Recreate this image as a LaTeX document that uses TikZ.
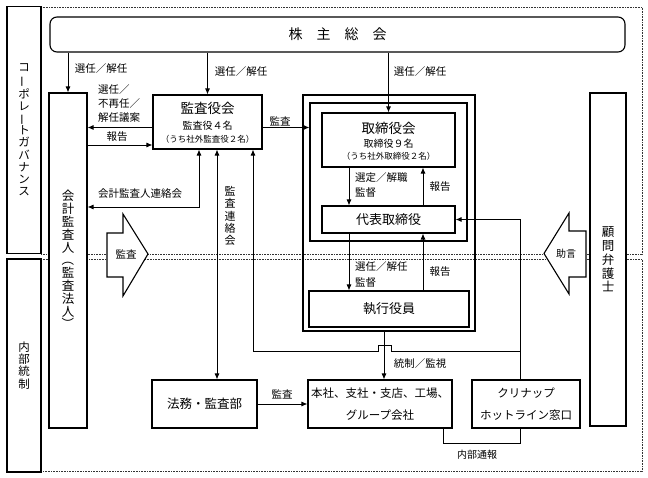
\documentclass[tikz,border=0pt]{standalone}
\usepackage{fontspec}
\setmainfont{Noto Sans CJK JP}
\usetikzlibrary{arrows.meta}
\newcommand{\tatebar}{\rotatebox[origin=c]{90}{ー}}
\newcommand{\tatelp}{\rotatebox[origin=c]{-90}{（}}
\newcommand{\taterp}{\rotatebox[origin=c]{-90}{）}}
\begin{document}
\begin{tikzpicture}[x=1pt,y=-1pt,
 box/.style={draw,line width=1.1pt,fill=white,inner sep=0pt},
 frm/.style={draw,line width=1.1pt,inner sep=0pt},
 arr/.style={line width=0.9pt,-{Latex[length=6pt,width=5pt]}},
 darr/.style={line width=0.9pt,{Latex[length=6pt,width=5pt]}-{Latex[length=6pt,width=5pt]}},
 ln/.style={line width=0.9pt},
 dotl/.style={line width=0.8pt,dash pattern=on 0.8pt off 0.8pt,black!80},
 bigarrow/.style={draw,line width=1.1pt,fill=white,line join=miter},
 lab/.style={inner sep=0pt,font=\fontsize{10.5}{13}\selectfont},
 labs/.style={inner sep=0pt,font=\fontsize{10}{12}\selectfont},
 ttl/.style={inner sep=0pt,font=\fontsize{13.5}{16}\selectfont},
 sub/.style={inner sep=0pt,font=\fontsize{10}{12}\selectfont},
 subs/.style={inner sep=0pt,font=\fontsize{8.5}{10}\selectfont},
 mid/.style={inner sep=0pt,font=\fontsize{11.5}{22.5}\selectfont},
]
\useasboundingbox (0,0) rectangle (648,478);
% region outlines (dotted)
\draw[dotl] (41,7) -- (642,7) -- (642,254) -- (41,254);
\draw[dotl] (41,259) -- (642,259) -- (642,471) -- (41,471);
% side label boxes
\node[box,minimum width=34,minimum height=247,align=center,font=\fontsize{11.5}{12.2}\selectfont] (cg) at (24,130)
 {コ\\\tatebar\\ポ\\レ\\\tatebar\\ト\\ガ\\バ\\ナ\\ン\\ス};
\node[box,minimum width=34,minimum height=213,align=center,font=\fontsize{11.5}{12.2}\selectfont] (ic) at (24,365.5)
 {内\\部\\統\\制};
% shareholders meeting
\node[box,rounded corners=7pt,minimum width=575,minimum height=35,font=\fontsize{14}{16}\selectfont] (sh) at (337.5,34.5) {株　主　総　会};
% frames
\node[frm,minimum width=172,minimum height=236] (outer) at (389,213) {};
\node[frm,minimum width=157,minimum height=138] (inner) at (388.5,172) {};
% main boxes
\node[box,minimum width=38,minimum height=335,align=center,font=\fontsize{12.5}{12.8}\selectfont] (aud) at (68,260.5)
 {会\\計\\監\\査\\人\\\tatelp\\監\\査\\法\\人\\\taterp};
\node[box,minimum width=109,minimum height=54] (ab) at (207.5,122) {};
\node[ttl] (ab1) at (207.5,108) {監査役会};
\node[sub] (ab2) at (207.5,126) {監査役４名};
\node[subs] (ab3) at (207.5,139.5) {（うち社外監査役２名）};
\node[box,minimum width=133,minimum height=54] (bod) at (388.5,140) {};
\node[ttl] (bod1) at (388.5,128) {取締役会};
\node[sub] (bod2) at (388.5,143.5) {取締役９名};
\node[subs] (bod3) at (388.5,156.5) {（うち社外取締役２名）};
\node[box,minimum width=133,minimum height=27,font=\fontsize{13}{15}\selectfont] (rep) at (388.5,219.5) {代表取締役};
\node[box,minimum width=160,minimum height=36,font=\fontsize{13}{15}\selectfont] (exe) at (389,309) {執行役員};
\node[box,minimum width=105,minimum height=48,font=\fontsize{12.5}{15}\selectfont] (legal) at (204.5,404) {法務・監査部};
\node[box,minimum width=144,minimum height=48,align=center,font=\fontsize{11.5}{22.5}\selectfont] (hq) at (380,404)
 {本社、支社・支店、工場、\\グループ会社};
\node[box,minimum width=108,minimum height=48,align=center,font=\fontsize{11.5}{22.5}\selectfont] (hot) at (526,404)
 {クリナップ\\ホットライン窓口};
\node[box,minimum width=36,minimum height=333,align=center,font=\fontsize{12.5}{13.8}\selectfont] (adv) at (608,259.5)
 {顧\\問\\弁\\護\\士};
% helper coordinates
\coordinate (y1) at (0,127.5);
\coordinate (y2) at (0,145);
\coordinate (c1) at (199,207);
\coordinate (x2) at (217,0);
\coordinate (x3) at (253,0);
\coordinate (yh) at (0,351);
\coordinate (xh) at (520,0);
\coordinate (xe) at (384,0);
\coordinate (xa) at (349,0);
\coordinate (xb) at (423,0);
\coordinate (c6) at (443,443);
% connectors from shareholders
\draw[arr] (aud.north |- sh.south) -- (aud.north);
\draw[arr] (ab.north |- sh.south) -- (ab.north);
\draw[arr] (bod.north |- sh.south) -- (bod.north);
% audit board <-> auditor
\draw[arr] (ab.west |- y1) -- (aud.east |- y1);
\draw[arr] (aud.east |- y2) -- (ab.west |- y2);
\draw[arr] (ab.east |- y1) -- (inner.west |- y1);
\draw[darr] (ab.south -| c1) -- (c1) -- (aud.east |- c1);
\draw[darr] (ab.south -| x2) -- (legal.north -| x2);
% board internal
\draw[arr] (bod.south -| xa) -- (rep.north -| xa);
\draw[arr] (rep.north -| xb) -- (bod.south -| xb);
\draw[arr] (rep.south -| xa) -- (exe.north -| xa);
\draw[arr] (exe.north -| xb) -- (rep.south -| xb);
% hotline reporting
\draw[arr] (hot.north -| xh) -- (xh |- rep.east) -- (rep.east);
\draw[arr] (xh |- yh) -- (391,351) -- (391,345) -- (378,345) -- (378,351) -- (x3 |- yh) -- (ab.south -| x3);
% control
\draw[arr] (outer.south -| xe) -- (hq.north -| xe);
\draw[arr] (legal.east) -- (hq.west);
\draw[ln] (hq.south -| c6) -- (c6) -- (c6 -| xh) -- (hot.south -| xh);
% big arrows
\draw[bigarrow] (107,233) -- (123,233) -- (123,214) -- (148,254) -- (123,296) -- (123,277) -- (107,277) -- cycle;
\draw[bigarrow] (586,231) -- (569,231) -- (569,213) -- (544,253.5) -- (569,294) -- (569,277) -- (586,277) -- cycle;
\node[lab] (l_kansa1) at (126,254) {監査};
\node[labs] (l_jogen) at (566,253.5) {助言};
% labels
\node[lab] (l1) at (101,69) {選任／解任};
\node[lab] (l2) at (241,72) {選任／解任};
\node[lab] (l3) at (420,72) {選任／解任};
\node[lab,anchor=west] (l4a) at (98,90) {選任／};
\node[lab,anchor=west] (l4b) at (98,104) {不再任／};
\node[lab,anchor=west] (l4c) at (98,118) {解任議案};
\node[lab] (l5) at (117,137) {報告};
\node[lab] (l6) at (280,121) {監査};
\node[lab] (l7) at (140,194) {会計監査人連絡会};
\node[inner sep=0pt,align=center,font=\fontsize{11}{12.3}\selectfont] (l8) at (230,216) {監\\査\\連\\絡\\会};
\node[lab,anchor=west] (l9a) at (355,178) {選定／解職};
\node[lab,anchor=west] (l9b) at (355,193) {監督};
\node[lab] (l10) at (440,187) {報告};
\node[lab,anchor=west] (l11a) at (355,267) {選任／解任};
\node[lab,anchor=west] (l11b) at (355,283) {監督};
\node[lab] (l12) at (440,272) {報告};
\node[lab] (l13) at (420,363.5) {統制／監視};
\node[lab] (l14) at (282,394) {監査};
\node[labs] (l15) at (477,455) {内部通報};
\end{tikzpicture}
\end{document}
